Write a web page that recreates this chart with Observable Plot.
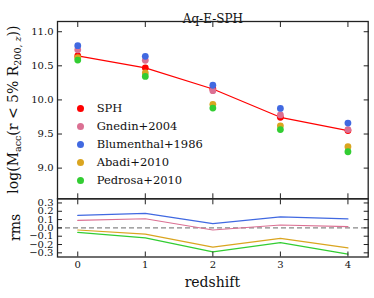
<!DOCTYPE html>
<html><head><meta charset="utf-8">
<script src="https://cdn.jsdelivr.net/npm/d3@7"></script>
<script src="https://cdn.jsdelivr.net/npm/@observablehq/plot@0.6"></script>
<style>
body{margin:0;background:#fff;}
#fig{position:relative;width:374px;height:298px;font-family:"DejaVu Serif",serif;color:#111;}
#fig svg{position:absolute;left:0;}
#legend{position:absolute;left:0;top:0;font-family:"DejaVu Serif",serif;font-size:11.5px;color:#111;}
#legend .row{position:absolute;white-space:nowrap;height:18px;line-height:18px;}
#legend .dot{position:absolute;width:7px;height:7px;border-radius:50%;}
</style></head><body><div id="fig"></div>
<script>
// ---- data ----
const redshift = [0, 1, 2, 3, 4];
const seriesNames = ["SPH", "Gnedin+2004", "Blumenthal+1986", "Abadi+2010", "Pedrosa+2010"];
const seriesColors = ["#ff0000", "#db7093", "#4169e1", "#daa520", "#32cd32"];
const sph        = [10.645, 10.47, 10.16, 9.745, 9.55];
const gnedin     = [10.735, 10.58, 10.135, 9.78, 9.565];
const blumenthal = [10.795, 10.64, 10.215, 9.875, 9.66];
const abadi      = [10.62, 10.395, 9.935, 9.62, 9.315];
const pedrosa    = [10.585, 10.345, 9.88, 9.565, 9.24];
const rmsGnedin     = [0.09, 0.11, -0.025, 0.035, 0.015];
const rmsBlumenthal = [0.15, 0.175, 0.052, 0.132, 0.108];
const rmsAbadi      = [-0.025, -0.075, -0.232, -0.125, -0.24];
const rmsPedrosa    = [-0.055, -0.12, -0.288, -0.177, -0.315];
const xTicks = [0, 1, 2, 3, 4];
const mainTicks = [9.0, 9.5, 10.0, 10.5, 11.0];
const rmsTicks = [-0.3, -0.2, -0.1, 0.0, 0.1, 0.2, 0.3];
const title = "Aq-E-SPH";
const xLabel = "redshift";
const rmsLabel = "rms";

// ---- build tables ----
const mainValues = [sph, gnedin, blumenthal, abadi, pedrosa];
const mainData = seriesNames.flatMap((s, i) => redshift.map((z, j) => ({series: s, z, v: mainValues[i][j]})));
const sphData = mainData.filter(d => d.series === "SPH");
const rmsNames = seriesNames.slice(1);
const rmsValues = [rmsGnedin, rmsBlumenthal, rmsAbadi, rmsPedrosa];
const rmsData = rmsNames.flatMap((s, i) => redshift.map((z, j) => ({series: s, z, v: rmsValues[i][j]})));

const W = 374, ML = 57, MR = 6.3;
const FONT = "DejaVu Serif";
const fmt1 = d => (d < 0 ? "\u2212" : "") + Math.abs(d).toFixed(1);
const color = {domain: seriesNames, range: seriesColors};

function frameAxes(yt, showXLabels) {
  const tl = 5;
  const c = {stroke: "#222", strokeWidth: 1, fill: "none", label: null};
  return [
    Plot.axisX(xTicks, {anchor: "top", tickSize: tl, insetTop: tl, ...c}),
    Plot.axisX(xTicks, {anchor: "bottom", tickSize: tl, insetBottom: tl, ...c}),
    Plot.axisY(yt, {anchor: "left", tickSize: tl, insetLeft: tl, ...c}),
    Plot.axisY(yt, {anchor: "right", tickSize: tl, insetRight: tl, ...c}),
    Plot.axisY(yt, {anchor: "left", tickSize: 0, tickPadding: 4, tickFormat: fmt1, label: null, fill: "#111", fontSize: 10}),
    showXLabels ? Plot.axisX(xTicks, {anchor: "bottom", tickSize: 0, tickPadding: 3.5, label: null, fill: "#111", fontSize: 10}) : null,
    Plot.frame({stroke: "#222", strokeWidth: 1.3})
  ];
}
const style = {fontFamily: FONT, fontSize: "10px", background: "transparent", overflow: "visible", color: "#111"};

const main = Plot.plot({
  width: W, height: 199,
  marginTop: 21, marginBottom: 0.7, marginLeft: ML, marginRight: MR,
  style,
  x: {domain: [-0.3, 4.3], axis: null},
  y: {domain: [8.55, 11.15], axis: null},
  color,
  marks: [
    Plot.line(sphData, {x: "z", y: "v", stroke: "series", strokeWidth: 1.2}),
    Plot.dot(mainData, {x: "z", y: "v", fill: "series", r: 3.4}),
    Plot.text([title], {text: d => d, frameAnchor: "top", dy: -7.5, fontSize: 12, fill: "#111"}),
    ...frameAxes(mainTicks, false)
  ]
});

const rms = Plot.plot({
  width: W, height: 108,
  marginTop: 8.3, marginBottom: 41.5, marginLeft: ML, marginRight: MR,
  style,
  x: {domain: [-0.3, 4.3], axis: null},
  y: {domain: [-0.35, 0.35], axis: null},
  color,
  marks: [
    Plot.ruleY([0], {stroke: "#888", strokeWidth: 1.2, strokeDasharray: "5,3"}),
    Plot.line(rmsData, {x: "z", y: "v", stroke: "series", strokeWidth: 1.2}),
    ...frameAxes(rmsTicks, true)
  ]
});

const fig = document.getElementById("fig");
main.style.top = "0px";
rms.style.top = "190px";
fig.appendChild(main);
fig.appendChild(rms);

// y label with subscripts (main)
{
  const svg = d3.select(main);
  const cx = 17.5, cy = 109.6;
  const t = svg.append("text")
    .attr("transform", `translate(${cx},${cy}) rotate(-90)`)
    .attr("text-anchor", "middle")
    .attr("font-family", FONT).attr("font-size", 14).attr("fill", "#111");
  t.append("tspan").text("log(M");
  t.append("tspan").attr("font-size", 9.5).attr("dy", 3).text("acc");
  t.append("tspan").attr("dy", -3).text("(r < 5% R");
  t.append("tspan").attr("font-size", 9.5).attr("dy", 3).text("200, ");
  t.append("tspan").attr("font-size", 9.5).attr("font-style", "italic").text("z");
  t.append("tspan").attr("dy", -3).text("))");
}
// rms label and x label
{
  const svg = d3.select(rms);
  svg.append("text")
    .attr("transform", `translate(20,${227.4 - 190}) rotate(-90)`)
    .attr("text-anchor", "middle")
    .attr("font-family", FONT).attr("font-size", 14).attr("fill", "#111")
    .text(rmsLabel);
  svg.append("text")
    .attr("x", (ML + W - MR) / 2).attr("y", 287.3 - 190)
    .attr("text-anchor", "middle")
    .attr("font-family", FONT).attr("font-size", 14).attr("fill", "#111")
    .text(xLabel);
}

// legend
{
  const lg = document.createElement("div");
  lg.id = "legend";
  seriesNames.forEach((s, i) => {
    const cy = 108.3 + 18 * i;
    const row = document.createElement("div");
    row.className = "row";
    row.style.left = "76.5px";
    row.style.top = (cy - 9) + "px";
    const dot = document.createElement("span");
    dot.className = "dot";
    dot.style.background = seriesColors[i];
    dot.style.left = "0px";
    dot.style.top = "5.5px";
    const txt = document.createElement("span");
    txt.textContent = s;
    txt.style.position = "absolute";
    txt.style.left = "20.2px";
    txt.style.top = "0px";
    row.appendChild(dot);
    row.appendChild(txt);
    lg.appendChild(row);
  });
  fig.appendChild(lg);
}
</script></body></html>
